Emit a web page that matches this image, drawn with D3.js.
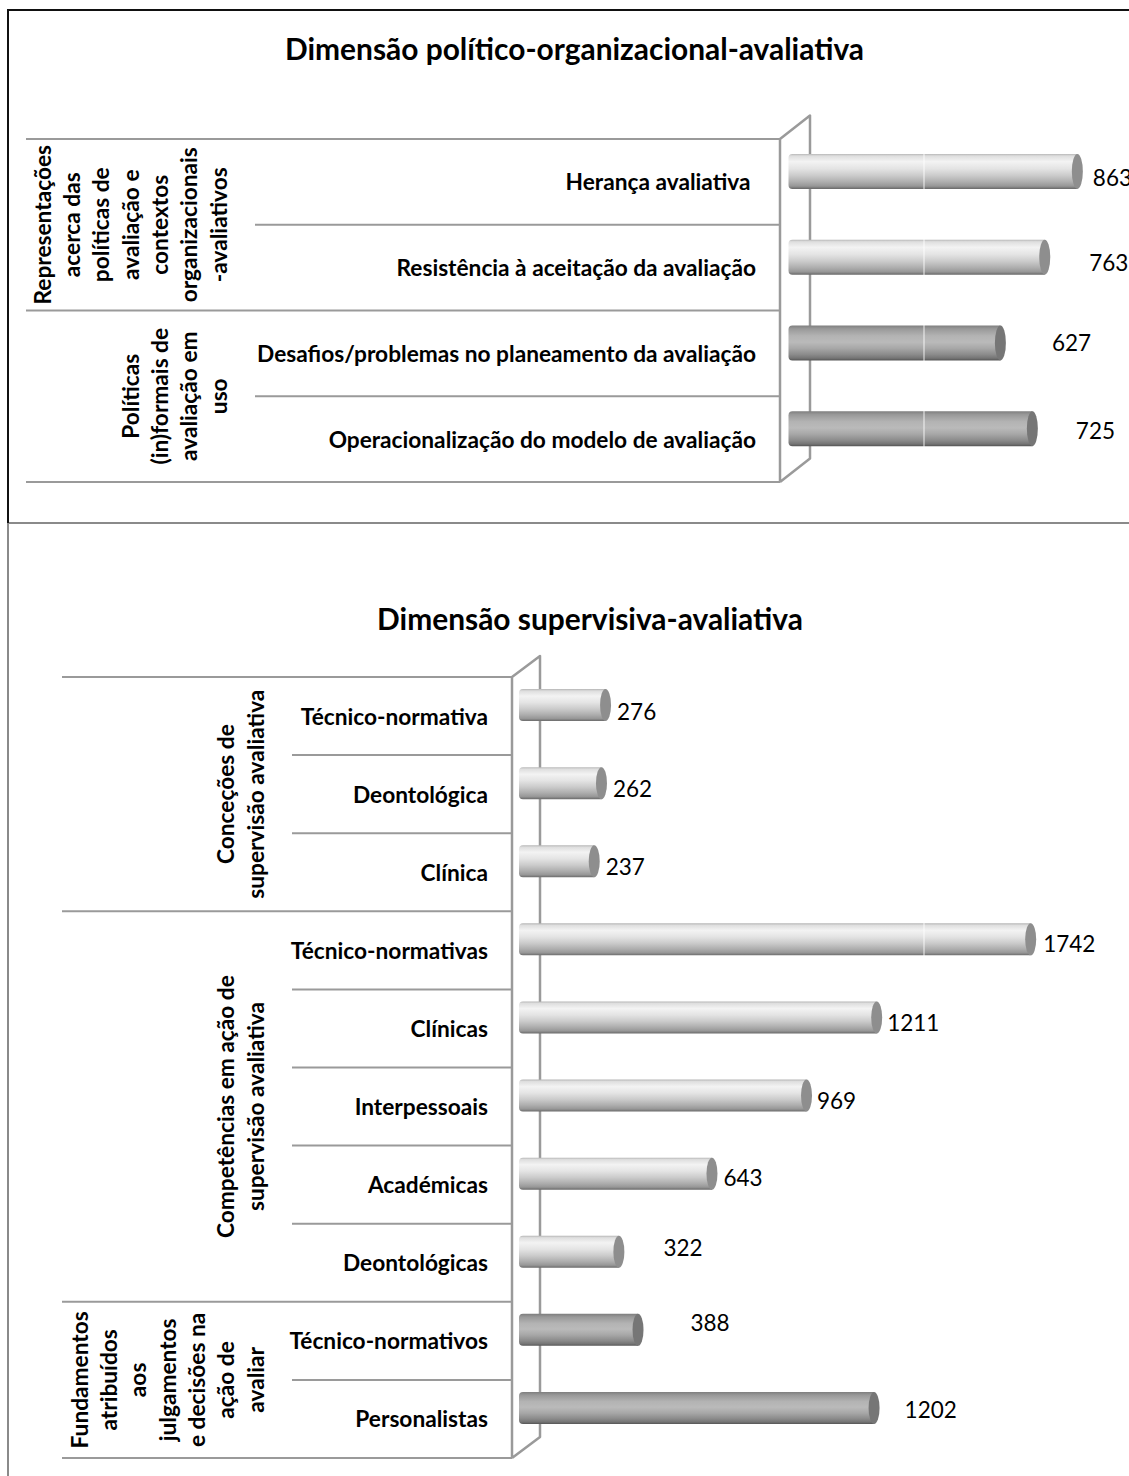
<!DOCTYPE html>
<html>
<head>
<meta charset="utf-8">
<script src="https://cdn.jsdelivr.net/npm/d3@7"></script>
<style>
  html, body { margin: 0; padding: 0; background: #fff; }
  svg { display: block; }
  text { font-family: Lato, "Open Sans", sans-serif; fill: #000; }
</style>
</head>
<body>
<svg id="chart" width="1129" height="1476"></svg>
<script>
// ---------- data ----------
const topTitle = "Dimensão político-organizacional-avaliativa";
const topCategories = [
  "Herança avaliativa ",
  "Resistência à aceitação da avaliação",
  "Desafios/problemas no planeamento da avaliação",
  "Operacionalização do modelo de avaliação"
];
const topValues = [863, 763, 627, 725];
const topGroupLines = [
  ["Representações", "acerca das", "políticas de", "avaliação e", "contextos", "organizacionais", "-avaliativos"],
  ["Políticas", "(in)formais de", "avaliação em", "uso"]
];
const topGroupSizes = [2, 2];
const topGroupTones = ["light", "dark"];

const bottomTitle = "Dimensão supervisiva-avaliativa";
const bottomCategories = [
  "Técnico-normativa", "Deontológica", "Clínica",
  "Técnico-normativas", "Clínicas", "Interpessoais", "Académicas", "Deontológicas",
  "Técnico-normativos", "Personalistas"
];
const bottomValues = [276, 262, 237, 1742, 1211, 969, 643, 322, 388, 1202];
const bottomGroupLines = [
  ["Conceções de", "supervisão avaliativa"],
  ["Competências em ação de", "supervisão avaliativa"],
  ["Fundamentos", "atribuídos", "aos", "julgamentos", "e decisões na", "ação de", "avaliar"]
];
const bottomGroupSizes = [3, 5, 2];
const bottomGroupTones = ["light", "light", "dark"];

// ---------- styling / layout ----------
// label offsets [dx, dy] from the end of each bar
const topLabelNudge = [[10, 6], [39, 5], [46, 0], [38, 2]];
const bottomLabelNudge = [[6, 6], [6, 5], [6, 5], [7, 4], [5, 5], [5, 5], [6, 4], [39, -4], [47, -7], [25, 2]];

const topLayout = {
  title: { x: 574.5, y: 60 },
  rowTop: 139, rowBottom: 482,
  groupLineX: 26, catLineX: 255, wallX: 780, depth: [30, -23.5],
  domain: [0, 1000], range: [801.5, 1127.5],
  barH: 35, barShift: -10.5, barInset: 13,
  groupLastX: 218, catLabelRight: 756
};
const bottomLayout = {
  title: { x: 590, y: 630 },
  rowTop: 677, rowBottom: 1458,
  groupLineX: 62, catLineX: 292, wallX: 512, depth: [28, -21],
  domain: [0, 2000], range: [531, 1111],
  barH: 32, barShift: -11, barInset: 12,
  groupLastX: 255, catLabelRight: 488
};

const SEAM_X = 924;        // thin light seam crossing the long bars
const LINE_COLOR = "#9a9a9a";
const CAT_FONT = 22.7, TITLE_FONT = 29.9, VALUE_FONT = 22.5, LINE_STEP = 29.3;

const svg = d3.select("#chart");

// ---------- cylinder shading ----------
const defs = svg.append("defs");
const shades = {
  light: [
    [0, "#b5b5b5"], [0.06, "#dedede"], [0.22, "#f3f3f3"], [0.42, "#e4e4e4"],
    [0.62, "#cbcbcb"], [0.8, "#aeaeae"], [0.92, "#979797"], [1, "#6a6a6a"]
  ],
  dark: [
    [0, "#7e7e7e"], [0.1, "#999"], [0.3, "#b3b3b3"], [0.48, "#bababa"],
    [0.66, "#a7a7a7"], [0.84, "#8a8a8a"], [0.94, "#747474"], [1, "#555"]
  ]
};
Object.entries(shades).forEach(([name, stops]) => {
  const lg = defs.append("linearGradient")
    .attr("id", "cyl-" + name)
    .attr("x1", 0).attr("y1", 0).attr("x2", 0).attr("y2", 1);
  stops.forEach(([o, c]) => lg.append("stop").attr("offset", o).attr("stop-color", c));
});
const capColor = { light: "#8e8e8e", dark: "#767676" };

// ---------- outer frames ----------
svg.append("path").attr("d", "M8,1476 V523 H1129")
  .attr("fill", "none").attr("stroke", "#8a8a8a").attr("stroke-width", 2);
svg.append("path").attr("d", "M8,523 V10 H1129")
  .attr("fill", "none").attr("stroke", "#111").attr("stroke-width", 2);

function drawPanel(L, title, cats, vals, groupLines, groupSizes, tones, nudges) {
  const g = svg.append("g");
  const y = d3.scaleBand().domain(cats).range([L.rowTop, L.rowBottom]).padding(0);
  const x = d3.scaleLinear().domain(L.domain).range(L.range);
  const [dx, dy] = L.depth;

  // group index for each category
  const groupOf = [];
  groupSizes.forEach((n, gi) => { for (let k = 0; k < n; k++) groupOf.push(gi); });
  const groupStart = groupSizes.map((n, gi) => d3.sum(groupSizes.slice(0, gi)));

  // title
  g.append("text")
    .attr("x", L.title.x).attr("y", L.title.y)
    .attr("text-anchor", "middle")
    .style("font-weight", 700).style("font-size", TITLE_FONT + "px")
    .text(title);

  // category separators (inside groups)
  cats.forEach((c, i) => {
    if (groupStart.includes(i)) return;
    g.append("line")
      .attr("x1", L.catLineX).attr("x2", L.wallX)
      .attr("y1", y(c)).attr("y2", y(c))
      .attr("stroke", LINE_COLOR).attr("stroke-width", 2);
  });
  // group separators
  const groupYs = groupStart.map(s => y(cats[s])).concat([L.rowBottom]);
  groupYs.forEach(gy => {
    g.append("line")
      .attr("x1", L.groupLineX).attr("x2", L.wallX)
      .attr("y1", gy).attr("y2", gy)
      .attr("stroke", LINE_COLOR).attr("stroke-width", 2);
  });

  // 3D side wall
  const wall = d3.path();
  wall.moveTo(L.wallX, L.rowBottom);
  wall.lineTo(L.wallX, L.rowTop);
  wall.lineTo(L.wallX + dx, L.rowTop + dy);
  wall.lineTo(L.wallX + dx, L.rowBottom + dy);
  wall.lineTo(L.wallX, L.rowBottom);
  g.append("path").attr("d", wall.toString())
    .attr("fill", "none").attr("stroke", LINE_COLOR)
    .attr("stroke-width", 2.5).attr("stroke-linejoin", "round");

  // group labels (rotated, stacked lines)
  groupLines.forEach((lines, gi) => {
    const cy = (groupYs[gi] + groupYs[gi + 1]) / 2;
    const n = lines.length;
    lines.forEach((txt, li) => {
      const cx = L.groupLastX - (n - 1 - li) * LINE_STEP;
      g.append("text")
        .attr("transform", `translate(${cx},${cy}) rotate(-90)`)
        .attr("text-anchor", "middle")
        .attr("dominant-baseline", "central")
        .style("font-weight", 700).style("font-size", CAT_FONT + "px")
        .text(txt);
    });
  });

  // category labels
  g.selectAll("text.cat").data(cats).join("text")
    .attr("class", "cat")
    .attr("x", L.catLabelRight)
    .attr("y", d => y(d) + y.bandwidth() / 2)
    .attr("text-anchor", "end")
    .attr("dominant-baseline", "central")
    .style("white-space", "pre")
    .style("font-weight", 700).style("font-size", CAT_FONT + "px")
    .text(d => d);

  // cylinders
  const capRx = 5.5, r = 4;
  const bars = g.selectAll("g.bar").data(cats.map((c, i) => ({ c, v: vals[i], i })))
    .join("g").attr("class", "bar");
  bars.append("path")
    .attr("d", d => {
      const cy = y(d.c) + y.bandwidth() / 2 + L.barShift;
      const t = cy - L.barH / 2, b = cy + L.barH / 2;
      const xs = x(0) - L.barInset, xe = x(d.v) - capRx;
      return `M${xs + r},${t} H${xe} V${b} H${xs + r} Q${xs},${b} ${xs},${b - r} V${t + r} Q${xs},${t} ${xs + r},${t} Z`;
    })
    .attr("fill", d => `url(#cyl-${tones[groupOf[d.i]]})`);
  bars.append("ellipse")
    .attr("cx", d => x(d.v) - capRx)
    .attr("cy", d => y(d.c) + y.bandwidth() / 2 + L.barShift)
    .attr("rx", capRx).attr("ry", L.barH / 2)
    .attr("fill", d => capColor[tones[groupOf[d.i]]]);

  // seam across the bars
  g.append("line")
    .attr("x1", SEAM_X).attr("x2", SEAM_X)
    .attr("y1", L.rowTop).attr("y2", L.rowBottom)
    .attr("stroke", "#fff").attr("stroke-opacity", 0.85).attr("stroke-width", 1);

  // value labels
  g.selectAll("text.val").data(cats.map((c, i) => ({ c, v: vals[i], i })))
    .join("text")
    .attr("class", "val")
    .attr("x", d => x(d.v) + nudges[d.i][0])
    .attr("y", d => y(d.c) + y.bandwidth() / 2 + L.barShift + nudges[d.i][1])
    .attr("dominant-baseline", "central")
    .style("font-size", VALUE_FONT + "px")
    .text(d => d.v);
}

drawPanel(topLayout, topTitle, topCategories, topValues, topGroupLines, topGroupSizes, topGroupTones, topLabelNudge);
drawPanel(bottomLayout, bottomTitle, bottomCategories, bottomValues, bottomGroupLines, bottomGroupSizes, bottomGroupTones, bottomLabelNudge);
</script>
</body>
</html>
